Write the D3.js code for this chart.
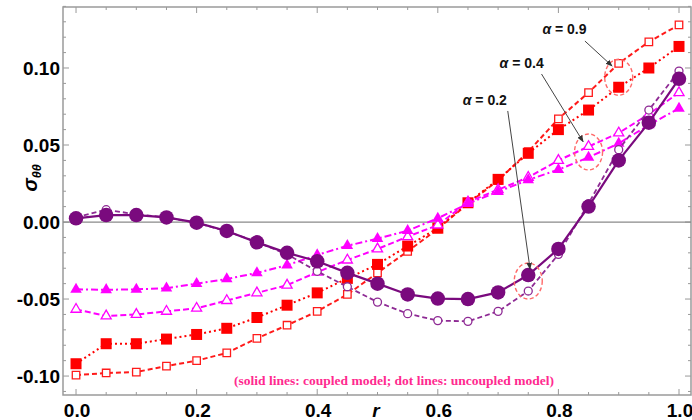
<html>
<head>
<meta charset="utf-8">
<style>
  body { margin: 0; background: #fff; }
  svg { display: block; }
  .tick-label { font-family: "Liberation Sans", Arial, sans-serif; font-weight: bold; font-size: 19px; }
</style>
<script src="https://cdn.jsdelivr.net/npm/d3@7"></script>
</head>
<body>
<svg id="chart"></svg>
<script>
// r positions (21 samples)
const rValues = [0, 0.05, 0.1, 0.15, 0.2, 0.25, 0.3, 0.35, 0.4, 0.45, 0.5,
                 0.55, 0.6, 0.65, 0.7, 0.75, 0.8, 0.85, 0.9, 0.95, 1.0];

// alpha = 0.9
const redCoupled   = [-0.092, -0.079, -0.079, -0.076, -0.073, -0.069, -0.062, -0.054, -0.046, -0.0366, -0.0275,
                      -0.0156, -0.004, 0.0125, 0.0277, 0.0446, 0.060, 0.0727, 0.0875, 0.100, 0.114];
const redUncoupled = [-0.0994, -0.098, -0.0974, -0.0935, -0.090, -0.085, -0.0755, -0.067, -0.058, -0.047, -0.033,
                      -0.019, -0.0045, 0.012, 0.027, 0.0457, 0.067, 0.084, 0.103, 0.117, 0.128];
// alpha = 0.4
const magCoupled   = [-0.0437, -0.044, -0.0437, -0.043, -0.040, -0.037, -0.033, -0.028, -0.0214, -0.0154, -0.0108,
                      -0.0056, 0.0024, 0.012, 0.0197, 0.0273, 0.034, 0.042, 0.051, 0.063, 0.0738];
const magUncoupled = [-0.0567, -0.061, -0.060, -0.058, -0.056, -0.051, -0.046, -0.041, -0.0325, -0.0247, -0.0175,
                      -0.0095, -0.002, 0.013, 0.021, 0.029, 0.040, 0.049, 0.0578, 0.070, 0.084];
// alpha = 0.2
const purCoupled   = [0.0024, 0.0045, 0.0045, 0.003, -0.0004, -0.0058, -0.0132, -0.020, -0.0255, -0.033, -0.040,
                      -0.047, -0.0497, -0.050, -0.0457, -0.0344, -0.0175, 0.010, 0.040, 0.0645, 0.093];
const purUncoupled = [0.003, 0.008, 0.005, 0.003, -0.0005, -0.006, -0.013, -0.021, -0.032, -0.042, -0.052,
                      -0.0595, -0.064, -0.0645, -0.058, -0.0448, -0.021, 0.012, 0.047, 0.0727, 0.098];

const xTickValues = [0, 0.2, 0.4, 0.6, 0.8, 1.0];
const yTickValues = [-0.10, -0.05, 0.00, 0.05, 0.10];

// annotation anchors in data units: label position, arrow start, arrow end, ringed point
const alphaLabels = ["α = 0.9", "α = 0.4", "α = 0.2"];
const labelPos   = [[0.81, 0.1253], [0.739, 0.1032], [0.678, 0.0792]];
const arrowFrom  = [[0.844, 0.1175], [0.772, 0.0961], [0.716, 0.0721]];
const arrowTo    = [[0.889, 0.1013], [0.841, 0.0521], [0.753, -0.0305]];
const ringAt     = [[0.9, 0.094], [0.85, 0.0455], [0.75, -0.0383]];

const noteText = "(solid lines: coupled model; dot lines: uncoupled model)";

const width = 692, height = 420;
const margin = {left: 63, right: 1, top: 7, bottom: 25};

const svg = d3.select("#chart").attr("width", width).attr("height", height);

const x = d3.scaleLinear().domain([-0.0216, 1.0199]).range([margin.left, width - margin.right]);
const y = d3.scaleLinear().domain([-0.1123, 0.1396]).range([height - margin.bottom, margin.top]);

const x0 = x.range()[0], x1 = x.range()[1], y0 = y.range()[0], y1 = y.range()[1];

// frame ticks (inward, all four sides)
const xMinor = d3.range(0, 1.0001, 0.05);
const yMinor = d3.range(-0.11, 0.1401, 0.01);
const isMajorX = v => xTickValues.some(t => Math.abs(t - v) < 1e-6);
const isMajorY = v => yTickValues.some(t => Math.abs(t - v) < 1e-6);
const frame = svg.append("g").attr("stroke", "#999").attr("stroke-width", 1);

xMinor.forEach(v => {
  const len = isMajorX(v) ? 6 : 3;
  frame.append("line").attr("x1", x(v)).attr("x2", x(v)).attr("y1", y0).attr("y2", y0 - len);
  frame.append("line").attr("x1", x(v)).attr("x2", x(v)).attr("y1", y1).attr("y2", y1 + len);
});
yMinor.forEach(v => {
  const len = isMajorY(v) ? 6 : 3;
  frame.append("line").attr("y1", y(v)).attr("y2", y(v)).attr("x1", x0).attr("x2", x0 + len);
  frame.append("line").attr("y1", y(v)).attr("y2", y(v)).attr("x1", x1).attr("x2", x1 - len);
});
frame.append("rect").attr("x", x0).attr("y", y1).attr("width", x1 - x0).attr("height", y0 - y1)
  .attr("fill", "none").attr("stroke", "#9a9a9a").attr("stroke-width", 1.5);

// zero line
svg.append("line").attr("x1", x0).attr("x2", x1).attr("y1", y(0)).attr("y2", y(0))
  .attr("stroke", "#8a8a8a").attr("stroke-width", 1.3);

// tick labels
svg.append("g").selectAll("text").data(xTickValues).enter().append("text")
  .attr("class", "tick-label").attr("x", d => x(d) + 1).attr("y", 417)
  .attr("text-anchor", "middle").text(d => d3.format(".1f")(d));
svg.append("g").selectAll("text").data(yTickValues).enter().append("text")
  .attr("class", "tick-label").attr("x", 60).attr("y", d => y(d) + 7)
  .attr("text-anchor", "end").text(d => d3.format(".2f")(d).replace("−", "-"));

// axis titles
svg.append("text").attr("x", 376).attr("y", 417).attr("text-anchor", "middle")
  .attr("font-family", "Liberation Sans, Arial, sans-serif").attr("font-weight", "bold")
  .attr("font-style", "italic").attr("font-size", 19).text("r");

const yTitle = svg.append("text").attr("transform", "translate(37,178) rotate(-90)")
  .attr("text-anchor", "middle").attr("font-family", "Liberation Sans, Arial, sans-serif")
  .attr("font-weight", "bold").attr("font-style", "italic");
yTitle.append("tspan").attr("font-size", 20).text("σ");
yTitle.append("tspan").attr("font-size", 12.5).attr("dy", 4).text("θθ");

// series
const series = [
  {values: redUncoupled, color: "#ff1a1a", dash: "5,3", width: 2, shape: "square", open: true},
  {values: redCoupled, color: "#ff0000", dash: "2,3", width: 2, shape: "square", open: false},
  {values: magUncoupled, color: "#ff00ff", dash: "6,3", width: 2, shape: "triangle", open: true},
  {values: magCoupled, color: "#ff00ff", dash: "7,3,2,3", width: 2, shape: "triangle", open: false},
  {values: purUncoupled, color: "#8e2a94", dash: "5,3", width: 1.8, shape: "circle", open: true},
  {values: purCoupled, color: "#7a0a7e", dash: null, width: 2.2, shape: "circle", open: false}
];

const line = d3.line().x(d => x(d[0])).y(d => y(d[1]));

function symbolFor(s) {
  if (s.shape === "square") return d3.symbol().type(d3.symbolSquare).size(s.open ? 56 : 121);
  if (s.shape === "triangle") return d3.symbol().type(d3.symbolTriangle).size(s.open ? 44 : 58);
  return d3.symbol().type(d3.symbolCircle).size(s.open ? 50 : 165);
}

series.forEach(s => {
  const pts = rValues.map((r, i) => [r, s.values[i]]);
  const g = svg.append("g");
  g.append("path").attr("d", line(pts)).attr("fill", "none")
    .attr("stroke", s.color).attr("stroke-width", s.width)
    .attr("stroke-dasharray", s.dash);
  g.selectAll("path.mark").data(pts).enter().append("path").attr("class", "mark")
    .attr("transform", d => "translate(" + x(d[0]) + "," + y(d[1]) + ")")
    .attr("d", symbolFor(s)())
    .attr("fill", s.open ? "#fff" : s.color)
    .attr("stroke", s.color).attr("stroke-width", s.open ? 1.3 : 0);
});

// annotations
svg.append("defs").append("marker").attr("id", "arrow").attr("viewBox", "0 0 10 10")
  .attr("refX", 9).attr("refY", 5).attr("markerWidth", 7).attr("markerHeight", 7)
  .attr("orient", "auto").append("path").attr("d", "M0,1 L10,5 L0,9 Z").attr("fill", "#333");

ringAt.forEach(p => {
  svg.append("ellipse").attr("cx", x(p[0])).attr("cy", y(p[1])).attr("rx", 14).attr("ry", 18)
    .attr("fill", "none").attr("stroke", "#ff6a6a").attr("stroke-width", 1.4)
    .attr("stroke-dasharray", "4,2.5");
});
arrowFrom.forEach((p, i) => {
  svg.append("line").attr("x1", x(p[0])).attr("y1", y(p[1]))
    .attr("x2", x(arrowTo[i][0])).attr("y2", y(arrowTo[i][1]))
    .attr("stroke", "#444").attr("stroke-width", 1).attr("marker-end", "url(#arrow)");
});
alphaLabels.forEach((t, i) => {
  const txt = svg.append("text").attr("x", x(labelPos[i][0])).attr("y", y(labelPos[i][1]) + 5)
    .attr("text-anchor", "middle").attr("font-family", "Liberation Sans, Arial, sans-serif")
    .attr("font-weight", "bold").attr("font-size", 14).attr("fill", "#111");
  txt.append("tspan").attr("font-style", "italic").text(t.slice(0, 1));
  txt.append("tspan").text(t.slice(1));
});

// model note
svg.append("text").attr("x", 394).attr("y", 385).attr("text-anchor", "middle")
  .attr("font-family", "Liberation Serif, Times New Roman, serif").attr("font-weight", "bold")
  .attr("font-size", 13.5).attr("fill", "#ff2a8f").text(noteText);
</script>
</body>
</html>
